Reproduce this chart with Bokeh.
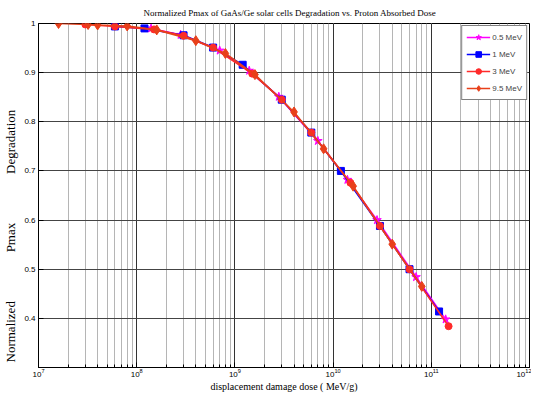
from bokeh.plotting import figure
from bokeh.models import CustomJSTickFormatter, FixedTicker, Title
from bokeh.embed import file_html
from bokeh.resources import INLINE

# ---- data ----
dose_05 = [1.4e8, 2.8e8, 7e8, 1.4e9, 2.8e9, 7e9, 1.4e10, 2.8e10, 7e10, 1.4e11]
pmax_05 = [0.990, 0.977, 0.945, 0.904, 0.851, 0.761, 0.682, 0.600, 0.484, 0.398]

dose_1 = [6e7, 1.2e8, 3e8, 6e8, 1.2e9, 3e9, 6e9, 1.2e10, 3e10, 6e10, 1.2e11]
pmax_1 = [0.994, 0.990, 0.976, 0.951, 0.916, 0.845, 0.778, 0.700, 0.588, 0.500, 0.414]

dose_3 = [3e7, 6e7, 1.5e8, 3e8, 6e8, 1.5e9, 3e9, 6e9, 1.5e10, 3e10, 6e10, 1.5e11]
pmax_3 = [0.998, 0.994, 0.988, 0.975, 0.951, 0.898, 0.845, 0.778, 0.676, 0.588, 0.500, 0.384]

dose_95 = [1.6e7, 3.2e7, 4e7, 8e7, 1.6e8, 4e8, 8e8, 1.6e9, 4e9, 8e9, 1.6e10, 4e10, 8e10]
pmax_95 = [1.000, 0.998, 0.997, 0.995, 0.987, 0.965, 0.939, 0.896, 0.820, 0.745, 0.669, 0.551, 0.465]

y_ticks = [0.4, 0.5, 0.6, 0.7, 0.8, 0.9, 1.0]

series = [
    ("0.5 MeV", dose_05, pmax_05, "star", "#ff00ff", 9),
    ("1 MeV", dose_1, pmax_1, "square", "#0000ff", 7),
    ("3 MeV", dose_3, pmax_3, "circle", "#ff2a2a", 7),
    ("9.5 MeV", dose_95, pmax_95, "diamond", "#e8401a", 10),
]

p = figure(width=531, height=394, x_axis_type="log",
           x_range=(1e7, 1e12), y_range=(0.3, 1.0),
           output_backend="svg", toolbar_location=None,
           min_border_left=4, min_border_right=2, min_border_top=4, min_border_bottom=2)

p.title = Title(text="Normalized Pmax of GaAs/Ge solar cells Degradation vs. Proton Absorbed Dose",
                align="left", offset=105, text_font="Liberation Serif", text_font_size="9px",
                text_font_style="normal", text_color="black", standoff=11)

for name, xs, ys, mk, col, sz in series:
    p.line(xs, ys, line_color=col, line_width=1.6, legend_label=name)
    p.scatter(xs, ys, marker=mk, size=sz, fill_color=col, line_color=col, legend_label=name)

p.outline_line_color = "black"
p.outline_line_width = 1

# grids
p.xgrid.grid_line_color = "#333333"
p.xgrid.minor_grid_line_color = "#b5b5b5"
p.ygrid.grid_line_color = "#444444"
p.ygrid.ticker = FixedTicker(ticks=y_ticks)

# axes
p.yaxis.ticker = FixedTicker(ticks=y_ticks)
p.yaxis.formatter = CustomJSTickFormatter(code="return tick >= 0.999 ? '1' : tick.toFixed(1);")
for ax in (p.xaxis[0], p.yaxis[0]):
    ax.major_tick_in = 5
    ax.major_tick_out = 0
    ax.minor_tick_in = 3
    ax.minor_tick_out = 0
    ax.axis_line_color = "black"
    ax.major_label_text_font = "Liberation Sans"
    ax.major_label_text_font_size = "8px"
    ax.major_label_text_color = "black"
    ax.axis_label_text_font = "Liberation Serif"
    ax.axis_label_text_font_style = "normal"
    ax.axis_label_text_color = "black"
p.yaxis.minor_tick_in = 0
p.xaxis.axis_label = "displacement damage dose ( MeV/g)"
p.xaxis.axis_label_text_font_size = "10px"
p.xaxis.axis_label_standoff = 1
p.xaxis.major_label_standoff = 1
gap1 = "\u00a0" * 15
gap2 = "\u00a0" * 15
pad = "\u00a0" * 25
p.yaxis.axis_label = "Normalized" + gap1 + "Pmax" + gap2 + "Degradation" + pad
p.yaxis.axis_label_text_font_size = "13px"
p.yaxis.axis_label_standoff = 3
p.yaxis.major_label_standoff = 3

# legend
lg = p.legend[0]
lg.location = "top_right"
lg.border_line_color = "black"
lg.border_line_width = 1
lg.background_fill_alpha = 1
lg.label_text_font = "Liberation Sans"
lg.label_text_font_size = "8px"
lg.glyph_width = 24
lg.glyph_height = 14
lg.label_height = 14
lg.spacing = 3
lg.padding = 4
lg.margin = 2
lg.label_standoff = 2

open("out.html", "w").write(file_html(p, INLINE))
